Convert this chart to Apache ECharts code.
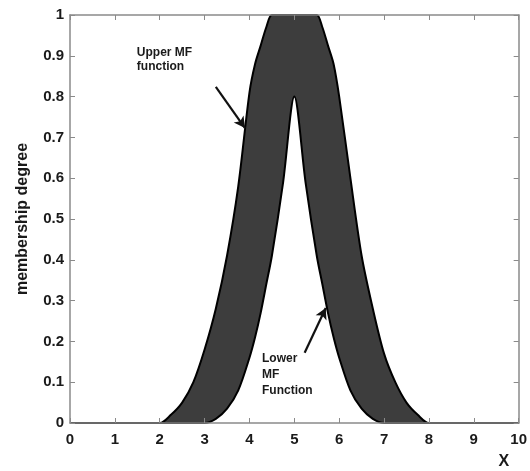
<!DOCTYPE html>
<html><head><meta charset="utf-8">
<script src="https://cdn.jsdelivr.net/npm/echarts@6/dist/echarts.min.js"></script>
<style>html,body{margin:0;padding:0;background:#fff}#c{width:530px;height:471px}</style>
</head><body><div id="c"></div>
<script>
// x positions shared by both membership functions
const xValues = [0, 1, 2, 2.25, 2.5, 2.75, 3, 3.25, 3.5, 3.75, 4, 4.125, 4.25, 4.375, 4.5, 4.75, 5, 5.25, 5.5, 5.625, 5.75, 5.875, 6, 6.25, 6.5, 6.75, 7, 7.25, 7.5, 7.75, 8, 9, 10];
// Upper membership function values
const upperMF = [0, 0, 0, 0.02, 0.05, 0.10, 0.18, 0.28, 0.41, 0.58, 0.81, 0.88, 0.925, 0.97, 1, 1, 1, 1, 1, 0.97, 0.925, 0.88, 0.80, 0.60, 0.41, 0.28, 0.17, 0.10, 0.05, 0.02, 0, 0, 0];
// Lower membership function values
const lowerMF = [0, 0, 0, 0, 0, 0, 0, 0.01, 0.035, 0.08, 0.16, 0.21, 0.27, 0.34, 0.41, 0.59, 0.80, 0.59, 0.41, 0.34, 0.27, 0.21, 0.16, 0.08, 0.035, 0.01, 0, 0, 0, 0, 0, 0, 0];
const xTickLabels = ['0','1','2','3','4','5','6','7','8','9','10'];
const yTickLabels = ['0','0.1','0.2','0.3','0.4','0.5','0.6','0.7','0.8','0.9','1'];
const yAxisTitle = 'membership degree';
const xAxisTitle = 'X';
const upperNote = 'Upper MF\nfunction';
const lowerNote = 'Lower\nMF\nFunction';

const FONT = '"Liberation Sans", Arial, sans-serif';
const chart = echarts.init(document.getElementById('c'), null, {renderer: 'canvas'});

const upperData = xValues.map((x, i) => [x, upperMF[i]]);
const lowerData = xValues.map((x, i) => [x, lowerMF[i]]);

const frame = '#8a8a8a';
const baseAxis = {
  z: 6,
  axisLine: {show: true, onZero: false, lineStyle: {color: frame, width: 1.5}},
  axisTick: {show: true, inside: true, length: 5, lineStyle: {color: frame, width: 1}},
  splitLine: {show: false}
};

chart.setOption({
  animation: false,
  backgroundColor: '#fff',
  grid: {left: 70, right: 11, top: 15, bottom: 48, containLabel: false},
  xAxis: [
    Object.assign({}, baseAxis, {
      type: 'value', min: 0, max: 10, interval: 1, position: 'bottom',
      axisLabel: {color: '#1a1a1a', fontFamily: FONT, fontWeight: 'bold', fontSize: 15, margin: 9,
        formatter: v => xTickLabels[Math.round(v)]}
    }),
    Object.assign({}, baseAxis, {
      type: 'value', min: 0, max: 10, interval: 1, position: 'top', axisLabel: {show: false}
    })
  ],
  yAxis: [
    Object.assign({}, baseAxis, {
      type: 'value', min: 0, max: 1, interval: 0.1, position: 'left',
      name: yAxisTitle, nameLocation: 'middle', nameGap: 39,
      nameTextStyle: {color: '#1a1a1a', fontFamily: FONT, fontWeight: 'bold', fontSize: 16},
      axisLabel: {color: '#1a1a1a', fontFamily: FONT, fontWeight: 'bold', fontSize: 15, margin: 6,
        formatter: v => yTickLabels[Math.round(v * 10)]}
    }),
    Object.assign({}, baseAxis, {
      type: 'value', min: 0, max: 1, interval: 0.1, position: 'right', axisLabel: {show: false}
    })
  ],
  series: [
    {
      type: 'line', name: 'upper', data: upperData,
      showSymbol: false, smooth: 0.3, z: 2,
      lineStyle: {color: '#000', width: 2},
      areaStyle: {color: '#3d3d3d', opacity: 1}
    },
    {
      type: 'line', name: 'lower', data: lowerData,
      showSymbol: false, smooth: 0.3, z: 3,
      lineStyle: {color: '#000', width: 2},
      areaStyle: {color: '#ffffff', opacity: 1},
      markLine: {
        silent: true, symbol: ['none', 'arrow'], symbolSize: [9, 11],
        label: {show: false},
        lineStyle: {color: '#111', width: 2.2, type: 'solid'},
        data: [
          [{coord: [3.25, 0.824]}, {coord: [3.90, 0.723]}],
          [{coord: [5.23, 0.172]}, {coord: [5.70, 0.282]}]
        ]
      }
    }
  ]
});

function px(x, y) { return chart.convertToPixel({xAxisIndex: 0, yAxisIndex: 0}, [x, y]); }
const pUpper = px(1.49, 0.925);
const pLower = px(4.28, 0.178);
const pX = [chart.convertToPixel({xAxisIndex: 0}, 9.67), 471 - 48 + 31];
const noteStyle = {fontFamily: FONT, fontWeight: 'bold', fontSize: 12, fill: '#1a1a1a'};
chart.setOption({
  graphic: [
    {type: 'text', z: 20, x: pUpper[0], y: pUpper[1], style: Object.assign({text: upperNote, lineHeight: 14}, noteStyle)},
    {type: 'text', z: 20, x: pLower[0], y: pLower[1], style: Object.assign({text: lowerNote, lineHeight: 16}, noteStyle)},
    {type: 'text', z: 20, x: pX[0], y: pX[1], style: {text: xAxisTitle, fontFamily: FONT, fontWeight: 'bold', fontSize: 16, fill: '#1a1a1a', align: 'center', verticalAlign: 'top'}}
  ]
});
</script></body></html>
